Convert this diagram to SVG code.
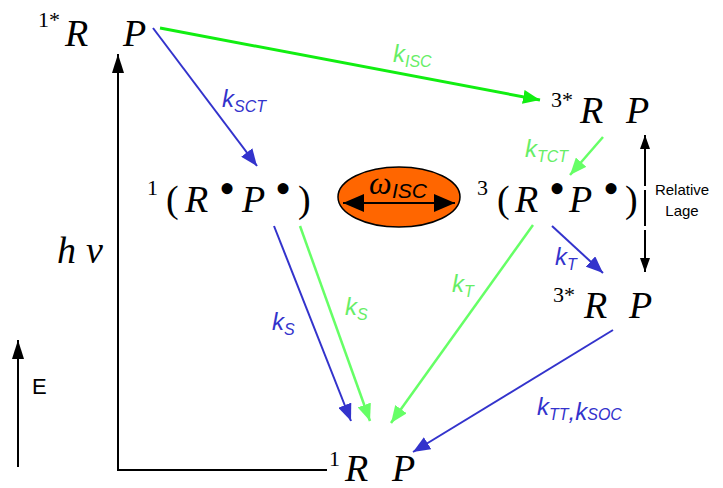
<svg xmlns="http://www.w3.org/2000/svg" width="723" height="488" viewBox="0 0 723 488">
<defs>
<style>
.it{font-family:"Liberation Serif",serif;font-style:italic;font-size:38px;fill:#000}
.up{font-family:"Liberation Serif",serif;font-size:22px;fill:#000}
.par{font-family:"Liberation Serif",serif;font-size:38px;fill:#000}
.dot{font-family:"Liberation Serif",serif;font-size:46px;fill:#000}
.lab{font-family:"Liberation Sans",sans-serif;font-style:italic;font-size:24px}
.sub{font-size:16px}
.blue{fill:#3333cc}
.lg{fill:#66ee66}
.sans{font-family:"Liberation Sans",sans-serif;fill:#000}
.lb{stroke:#3333cc;stroke-width:2;fill:none}
.lgl{stroke:#66ff66;stroke-width:2.5;fill:none}
.lgb{stroke:#11ee11;stroke-width:3;fill:none}
.lk{stroke:#000;stroke-width:2;fill:none}
</style>
<marker id="ab" markerUnits="userSpaceOnUse" markerWidth="18" markerHeight="14" viewBox="0 0 18 14" refX="17" refY="7" orient="auto"><path d="M0,0 L17,7 L0,14 Z" fill="#3333cc"/></marker>
<marker id="agl" markerUnits="userSpaceOnUse" markerWidth="18" markerHeight="14" viewBox="0 0 18 14" refX="17" refY="7" orient="auto"><path d="M0,0 L17,7 L0,14 Z" fill="#66ff66"/></marker>
<marker id="agb" markerUnits="userSpaceOnUse" markerWidth="18" markerHeight="14" viewBox="0 0 18 14" refX="17" refY="7" orient="auto"><path d="M0,0 L17,7 L0,14 Z" fill="#11ee11"/></marker>
<marker id="ak" markerUnits="userSpaceOnUse" markerWidth="20" markerHeight="12" viewBox="0 0 20 12" refX="19" refY="6" orient="auto"><path d="M0,0 L19,6 L0,12 Z" fill="#000"/></marker>
<marker id="aks" markerUnits="userSpaceOnUse" markerWidth="15" markerHeight="10" viewBox="0 0 15 10" refX="14" refY="5" orient="auto-start-reverse"><path d="M0,0 L14,5 L0,10 Z" fill="#000"/></marker>
<marker id="akb" markerUnits="userSpaceOnUse" markerWidth="22" markerHeight="18" viewBox="0 0 22 18" refX="21" refY="9" orient="auto-start-reverse"><path d="M0,0 L21,9 L0,18 Z" fill="#000"/></marker>
</defs>

<g id="connectors">
<line class="lk" x1="118" y1="470" x2="118" y2="54" marker-end="url(#ak)"/>
<line class="lk" x1="117" y1="470" x2="327" y2="470"/>
<line class="lgb" x1="160" y1="28" x2="540" y2="100" marker-end="url(#agb)"/>
<line class="lb" x1="153" y1="28" x2="257" y2="166" marker-end="url(#ab)"/>
<line class="lgl" x1="603" y1="137" x2="570" y2="175" marker-end="url(#agl)"/>
<line class="lb" x1="552" y1="226" x2="603" y2="273" marker-end="url(#ab)"/>
<line class="lb" x1="274" y1="226" x2="351" y2="421" marker-end="url(#ab)"/>
<line class="lgl" x1="300" y1="226" x2="370" y2="421" marker-end="url(#agl)"/>
<line class="lgl" x1="533" y1="225" x2="391" y2="423" marker-end="url(#agl)"/>
<line class="lb" x1="613" y1="330" x2="413" y2="452" marker-end="url(#ab)"/>
<line class="lk" x1="645" y1="272" x2="645" y2="135" marker-start="url(#aks)" marker-end="url(#aks)"/>
<line x1="645" y1="186" x2="645" y2="190" stroke="#fff" stroke-width="3"/>
<line x1="645" y1="226" x2="645" y2="230" stroke="#fff" stroke-width="3"/>
<line class="lk" x1="18" y1="467" x2="18" y2="340" marker-end="url(#ak)"/>
</g>

<g id="labels">
<text class="lab lg" x="393" y="62">k<tspan class="sub" dy="5">ISC</tspan></text>
<text class="lab blue" x="222" y="107">k<tspan class="sub" dy="5">SCT</tspan></text>
<text class="lab lg" x="525" y="157">k<tspan class="sub" dy="5">TCT</tspan></text>
<text class="lab blue" x="555" y="265">k<tspan class="sub" dy="5">T</tspan></text>
<text class="lab blue" x="272" y="330">k<tspan class="sub" dy="5">S</tspan></text>
<text class="lab lg" x="345" y="315">k<tspan class="sub" dy="5">S</tspan></text>
<text class="lab lg" x="452" y="292">k<tspan class="sub" dy="5">T</tspan></text>
<text class="lab blue" x="537" y="415">k<tspan class="sub" dy="5">TT</tspan>,k<tspan class="sub" dy="0">SOC</tspan></text>
<text class="sans" x="682" y="195" font-size="15" text-anchor="middle">Relative</text>
<text class="sans" x="682" y="216" font-size="15" text-anchor="middle">Lage</text>
<text class="sans" x="32" y="394" font-size="22">E</text>
</g>

<g id="n1RP_excited">
<text class="up" x="38" y="27">1*</text>
<text class="it" x="65" y="46">R</text>
<text class="it" x="123" y="46">P</text>
</g>

<g id="hv">
<text class="it" x="57" y="263">h</text>
<text class="it" x="86" y="263">ν</text>
</g>

<g id="n1RadPair">
<text class="up" x="147" y="195">1</text>
<text class="par" x="166" y="212">(</text>
<text class="it" x="185" y="212">R</text>
<text class="dot" x="219" y="204">•</text>
<text class="it" x="242" y="212">P</text>
<text class="dot" x="275" y="204">•</text>
<text class="par" x="298" y="212">)</text>
</g>

<g id="omega">
<ellipse cx="399" cy="197" rx="61" ry="30" fill="#ff6600" stroke="#000" stroke-width="1.5"/>
<line class="lk" x1="343" y1="203" x2="455" y2="203" marker-start="url(#akb)" marker-end="url(#akb)"/>
<text x="369" y="194" font-family="Liberation Serif,serif" font-style="italic" font-size="32" fill="#000">ω</text>
<text x="392" y="198" font-family="Liberation Sans,sans-serif" font-style="italic" font-size="21" fill="#000">ISC</text>
</g>

<g id="n3RP_excited_top">
<text class="up" x="551" y="107">3*</text>
<text class="it" x="580" y="123">R</text>
<text class="it" x="626" y="123">P</text>
</g>

<g id="n3RadPair">
<text class="up" x="477" y="195">3</text>
<text class="par" x="497" y="212">(</text>
<text class="it" x="515" y="212">R</text>
<text class="dot" x="549" y="204">•</text>
<text class="it" x="569" y="212">P</text>
<text class="dot" x="603" y="204">•</text>
<text class="par" x="625" y="212">)</text>
</g>

<g id="n3RP_excited_low">
<text class="up" x="553" y="302">3*</text>
<text class="it" x="584" y="318">R</text>
<text class="it" x="629" y="318">P</text>
</g>

<g id="n1RP_ground">
<text class="up" x="329" y="466">1</text>
<text class="it" x="345" y="481">R</text>
<text class="it" x="392" y="481">P</text>
</g>
</svg>
